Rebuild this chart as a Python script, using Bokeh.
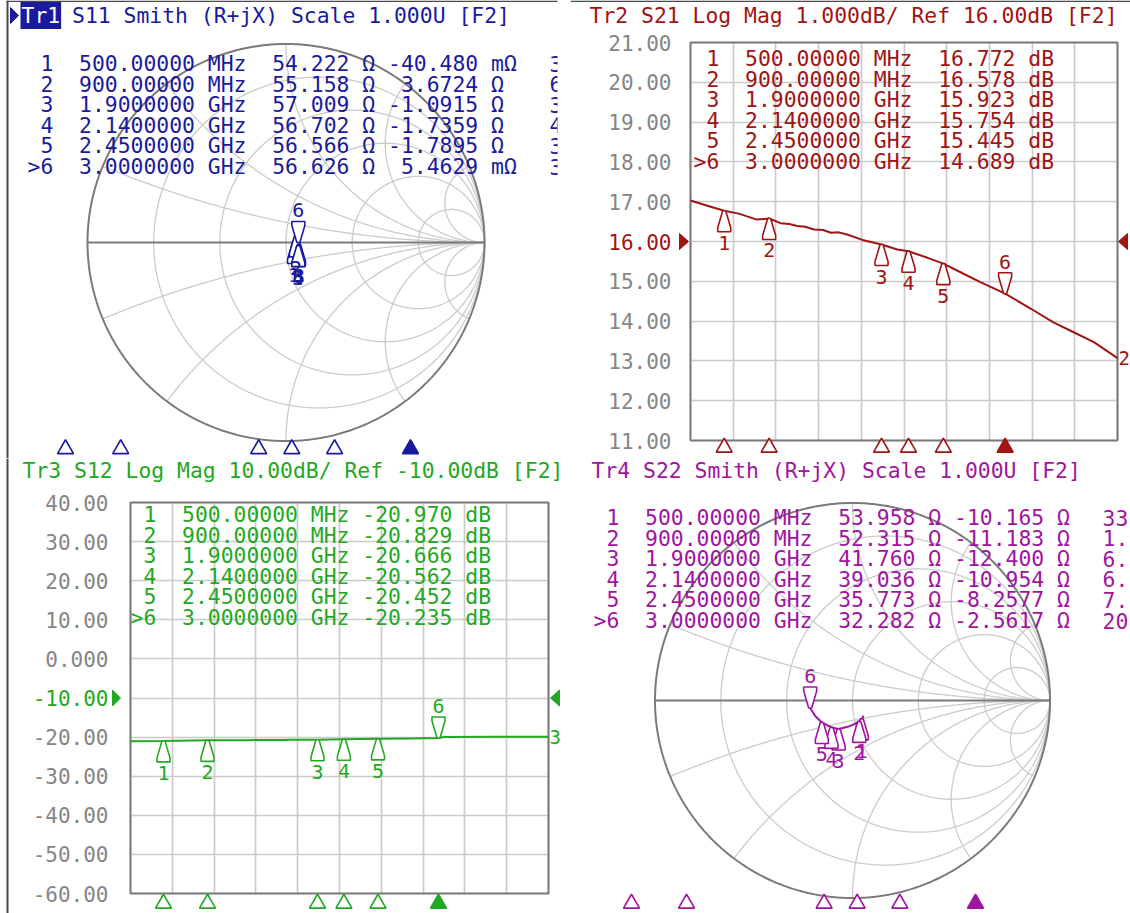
import numpy as np

from bokeh.core.properties import value
from bokeh.embed import file_html
from bokeh.layouts import column, row
from bokeh.models import BoxAnnotation, FixedTicker, Grid, Label, Range1d
from bokeh.plotting import figure
from bokeh.resources import INLINE

# ---------------- marker table (same six markers on every trace) ----------------
marker_names = ["1", "2", "3", "4", "5", ">6"]
marker_ghz = [0.5, 0.9, 1.9, 2.14, 2.45, 3.0]
active_marker = 5
sweep_start_ghz = 0.2
sweep_stop_ghz = 4.0

s11_r_ohm = [54.222, 55.158, 57.009, 56.702, 56.566, 56.626]
s11_x_ohm = [-0.040480, 3.6724, -1.0915, -1.7359, -1.7895, 0.0054629]
s11_last_col = ["3", "6", "3", "4", "3", "3"]

s21_db = [16.772, 16.578, 15.923, 15.754, 15.445, 14.689]
s12_db = [-20.970, -20.829, -20.666, -20.562, -20.452, -20.235]

s22_r_ohm = [53.958, 52.315, 41.760, 39.036, 35.773, 32.282]
s22_x_ohm = [-10.165, -11.183, -12.400, -10.954, -8.2577, -2.5617]
s22_last_col = ["33", "1.", "6.", "6.", "7.", "20"]

# ---------------- swept traces ----------------
s11_ghz = [0.2, 0.35, 0.5, 0.7, 0.9, 1.2, 1.5, 1.9, 2.14, 2.45, 2.7, 3.0, 3.3, 3.6, 4.0]
s11_r = [53.6, 53.9, 54.222, 54.7, 55.158, 56.0, 56.7, 57.009, 56.702, 56.566, 56.5, 56.626, 56.8, 56.3, 55.6]
s11_x = [-3.5, -2.0, -0.04, 2.3, 3.6724, 2.6, 0.8, -1.0915, -1.7359, -1.7895, -1.2, 0.0055, -2.5, -6.0, -10.5]

s21_ghz = [0.2, 0.35, 0.5, 0.63, 0.79, 0.9, 1.0, 1.08, 1.15, 1.22, 1.3, 1.38, 1.45, 1.52, 1.6, 1.73,
           1.9, 2.04, 2.14, 2.31, 2.45, 2.63, 2.78, 3.0, 3.23, 3.43, 3.61, 3.79, 4.0]
s21_trace_db = [17.03, 16.90, 16.772, 16.70, 16.55, 16.578, 16.46, 16.44, 16.39, 16.37, 16.30, 16.29, 16.22,
                16.23, 16.17, 16.04, 15.923, 15.80, 15.754, 15.59, 15.445, 15.19, 14.98, 14.689, 14.31,
                13.97, 13.72, 13.47, 13.07]

s12_ghz = [0.2, 0.5, 0.9, 1.25, 1.6, 1.65, 1.9, 2.14, 2.45, 2.75, 3.0, 3.05, 3.5, 4.0]
s12_trace_db = [-21.03, -20.970, -20.829, -20.78, -20.74, -20.68, -20.666, -20.562, -20.452, -20.34,
                -20.235, -19.95, -19.92, -19.90]

s22_ghz = [0.2, 0.35, 0.5, 0.7, 0.9, 1.2, 1.5, 1.9, 2.14, 2.45, 2.7, 3.0, 3.3, 3.6, 4.0]
s22_r = [55.2, 54.6, 53.958, 53.2, 52.315, 49.5, 46.0, 41.760, 39.036, 35.773, 33.8, 32.282, 31.8, 31.4, 31.0]
s22_x = [-8.6, -9.4, -10.165, -10.8, -11.183, -12.0, -12.5, -12.400, -10.954, -8.2577, -5.6, -2.5617, -0.5, 0.8, 1.8]

# ---------------- axes ----------------
s21_ticks = [21, 20, 19, 18, 17, 16, 15, 14, 13, 12, 11]
s21_tick_labels = ["21.00", "20.00", "19.00", "18.00", "17.00", "16.00", "15.00", "14.00", "13.00", "12.00", "11.00"]
s21_ref_db = 16
s12_ticks = [40, 30, 20, 10, 0, -10, -20, -30, -40, -50, -60]
s12_tick_labels = ["40.00", "30.00", "20.00", "10.00", "0.000", "-10.00", "-20.00", "-30.00", "-40.00", "-50.00", "-60.00"]
s12_ref_db = -10

headers = {
    "Tr1": "S11 Smith (R+jX) Scale 1.000U [F2]",
    "Tr2": "Tr2 S21 Log Mag 1.000dB/ Ref 16.00dB [F2]",
    "Tr3": "Tr3 S12 Log Mag 10.00dB/ Ref -10.00dB [F2]",
    "Tr4": "Tr4 S22 Smith (R+jX) Scale 1.000U [F2]",
}

# ---------------- styling ----------------
MONO = "DejaVu Sans Mono"
FPX = 21.4
FS = f"{FPX}px"
CW = 0.6021 * FPX         # advance of one monospace cell
PITCH = 20.6              # marker table row pitch
FL = 5                    # every pane's frame starts 5 px in, so the panes line up untouched
BLUE, RED, GREEN, PURPLE = "#1a1a9c", "#a01414", "#24a824", "#a014a0"
GRID_C, FRAME_C, TICK_C, EDGE_C = "#cbcbcb", "#7a7a7a", "#858585", "#4a4a4a"
MARKER_SHAPE = [(-1.5, 0), (1.5, 0), (6.5, 17), (6.5, 21), (-6.5, 21), (-6.5, 17)]


def nb(s):
    # keep runs of blanks in the SVG text
    return s.replace(" ", "\u00a0")


def freq_text(g):
    if g < 1:
        return f"{g * 1000:.5f}", "MHz"
    return f"{g:.7f}", "GHz"


def ohm_text(v):
    unit = "Ω"
    if abs(v) < 1:
        v, unit = v * 1000, "mΩ"
    digits = 5 - len(str(int(abs(v))))
    return f"{v:.{digits}f}", unit


def make_figure(w, h, xr, yr, with_axis=False):
    p = figure(width=w, height=h, x_range=Range1d(*xr), y_range=Range1d(*yr),
               output_backend="svg", toolbar_location=None, title=None,
               x_axis_location=None, y_axis_location="left" if with_axis else None,
               min_border_left=FL, min_border_right=0,
               min_border_top=0, min_border_bottom=0,
               outline_line_color=None, background_fill_color="white",
               border_fill_color="white")
    p.grid.visible = False
    return p


def put_text(p, fy, x, y, text, color, align="left", size=FS, **extra):
    """Text at canvas-local pixel (x, y); fy = frame bottom on the canvas."""
    p.add_layout(Label(x=x - FL, y=fy - y, x_units="screen", y_units="screen", text=nb(text),
                       text_color=color, text_font=MONO, text_font_size=size,
                       text_align=align, text_baseline="middle", **extra))


def block(p, fy, x0, x1, y0, y1, color):
    p.add_layout(BoxAnnotation(left=x0 - FL, right=x1 - FL, top=fy - y0, bottom=fy - y1,
                               left_units="screen", right_units="screen",
                               top_units="screen", bottom_units="screen",
                               fill_color=color, fill_alpha=1.0, line_color=None))


def trace_markers(p, xs, ys, kx, ky, color):
    pxs, pys, lx, ly = [], [], [], []
    for i, (x0, y0) in enumerate(zip(xs, ys)):
        s = 1 if i == active_marker else -1      # the active marker sits above the trace
        pxs.append([x0 + dx / kx for dx, dy in MARKER_SHAPE])
        pys.append([y0 + s * dy / ky for dx, dy in MARKER_SHAPE])
        lx.append(x0)
        ly.append(y0 + s * 32 / ky)
    p.patches(pxs, pys, fill_color="white", line_color=color, line_width=1.6)
    p.text(lx, ly, text=[n.lstrip(">") for n in marker_names], text_color=color,
           text_font=value(MONO), text_font_size="20px", text_align="center",
           text_baseline="middle")


def stimulus_row(p, y, color, **kw):
    fills = ["white"] * len(marker_ghz)
    fills[active_marker] = color
    p.scatter(marker_ghz, [y] * len(marker_ghz), marker="triangle", size=16,
              fill_color=fills, line_color=color, line_width=1.6, **kw)


def smith_grid():
    xs, ys = [], []
    sweep = np.tan(np.linspace(-np.pi / 2, np.pi / 2, 721)[1:-1])
    half = np.tan(np.linspace(0, np.pi / 2, 361)[:-1])
    for r in (0.2, 0.5, 1.0, 2.0, 5.0):
        g = (r + 1j * sweep - 1) / (r + 1j * sweep + 1)
        xs.append([1.0] + list(g.real) + [1.0])
        ys.append([0.0] + list(g.imag) + [0.0])
    for x in (0.2, 0.5, 1.0, 2.0, 5.0, -0.2, -0.5, -1.0, -2.0, -5.0):
        g = (half + 1j * x - 1) / (half + 1j * x + 1)
        xs.append(list(g.real) + [1.0])
        ys.append(list(g.imag) + [0.0])
    return xs, ys


def gamma(r_ohm, x_ohm):
    z = (np.asarray(r_ohm) + 1j * np.asarray(x_ohm)) / 50.0
    return (z - 1) / (z + 1)


def smith_panel(w, h, cx, cy, rad, color, r_ohm, x_ohm, last_col, last_x,
                tr_r, tr_x, stim_px, stim_y, table_xy):
    p = make_figure(w, h, ((FL - cx) / rad, (w - cx) / rad), (-(h - cy) / rad, cy / rad))
    gx, gy = smith_grid()
    p.multi_line(gx, gy, line_color=GRID_C, line_width=1.3)
    t = np.linspace(0, 2 * np.pi, 721)
    p.line(list(np.cos(t)), list(np.sin(t)), line_color=FRAME_C, line_width=2)
    p.segment(x0=[-1], y0=[0], x1=[1], y1=[0], line_color=FRAME_C, line_width=2)

    g = gamma(tr_r, tr_x)
    p.line(list(g.real), list(g.imag), line_color=color, line_width=2)
    gm = gamma(r_ohm, x_ohm)
    trace_markers(p, list(gm.real), list(gm.imag), rad, rad, color)

    # stimulus positions along a hidden frequency scale under the chart
    k = (stim_px[1] - stim_px[0]) / (sweep_stop_ghz - sweep_start_ghz)
    p.extra_x_ranges = {"freq": Range1d(sweep_start_ghz - (stim_px[0] - FL) / k,
                                        sweep_stop_ghz + (w - stim_px[1]) / k)}
    stimulus_row(p, -(stim_y - cy) / rad, color, x_range_name="freq")

    x0, y0 = table_xy
    rows_y = [y0 + i * PITCH for i in range(len(marker_names))]
    for i in range(len(marker_names)):
        f, fu = freq_text(marker_ghz[i])
        rv, _ = ohm_text(r_ohm[i])
        xv, xu = ohm_text(x_ohm[i])
        line = f"{marker_names[i]:>2}  {f} {fu}  {rv} Ω {xv:>7} {xu}"
        put_text(p, h, x0, rows_y[i], line, color)
    # column that runs past the pane edge
    p.text([(last_x - cx) / rad] * len(last_col), [(cy - y) / rad for y in rows_y],
           text=last_col, text_color=color, text_font=value(MONO), text_font_size=FS,
           text_align="left", text_baseline="middle")
    return p


def logmag_panel(w, h, label_right, box, ticks, tick_labels, ref, color,
                 tr_f, tr_db, mk_db, table_xy, stim_y, ref_tri, trace_no):
    bx0, bx1, by0, by1 = box
    top_v, bot_v = ticks[0], ticks[-1]
    kx = (bx1 - bx0) / (sweep_stop_ghz - sweep_start_ghz)
    ky = (by1 - by0) / (top_v - bot_v)
    xr = (sweep_start_ghz - (bx0 - FL) / kx, sweep_stop_ghz + (w - bx1) / kx)
    yr = (bot_v - (h - by1) / ky, top_v + by0 / ky)
    p = make_figure(w, h, xr, yr, True)

    def to_x(px):
        return sweep_start_ghz + (px - bx0) / kx

    def to_y(py):
        return top_v - (py - by0) / ky

    # value axis: labels pulled in over the canvas so they sit just left of the graticule
    ax = p.yaxis[0]
    ax.ticker = FixedTicker(ticks=[t for t in ticks if t != ref])
    ax.major_label_overrides = {t: s for t, s in zip(ticks, tick_labels)}
    ax.axis_line_color = None
    ax.major_tick_line_color = None
    ax.minor_tick_line_color = None
    ax.major_tick_out = 0
    ax.major_tick_in = 0
    ax.minor_tick_out = 0
    ax.major_label_text_font = MONO
    ax.major_label_text_font_size = "21px"
    ax.major_label_text_color = TICK_C
    ax.major_label_standoff = FL - label_right
    p.text([to_x(label_right)], [ref], text=[tick_labels[ticks.index(ref)]], text_color=color,
           text_font=value(MONO), text_font_size="21px", text_align="right", text_baseline="middle")

    xdiv = [sweep_start_ghz + (sweep_stop_ghz - sweep_start_ghz) * i / 10 for i in range(11)]
    xb, yb = (sweep_start_ghz, sweep_stop_ghz), (bot_v, top_v)
    if "cross_bounds" in Grid.properties():
        p.add_layout(Grid(dimension=0, ticker=FixedTicker(ticks=xdiv), bounds=xb, cross_bounds=yb,
                          grid_line_color=GRID_C, grid_line_width=1.7))
        p.add_layout(Grid(dimension=1, ticker=FixedTicker(ticks=ticks), bounds=yb, cross_bounds=xb,
                          grid_line_color=GRID_C, grid_line_width=1.7))
    else:
        p.segment(x0=xdiv, y0=[bot_v] * 11, x1=xdiv, y1=[top_v] * 11, line_color=GRID_C, line_width=1.7)
        p.segment(x0=[xb[0]] * len(ticks), y0=ticks, x1=[xb[1]] * len(ticks), y1=ticks,
                  line_color=GRID_C, line_width=1.7)
    p.quad(left=[xb[0]], right=[xb[1]], bottom=[bot_v], top=[top_v], fill_color=None,
           line_color=FRAME_C, line_width=2)

    p.line(tr_f, tr_db, line_color=color, line_width=2)
    trace_markers(p, marker_ghz, mk_db, kx, ky, color)
    p.text([sweep_stop_ghz + 1 / kx], [tr_db[-1]], text=[trace_no], text_color=color,
           text_font=value(MONO), text_font_size="19px", text_align="left", text_baseline="middle")

    stimulus_row(p, to_y(stim_y), color)

    # reference-level pointers on both sides of the graticule
    (l0, l1), (r0, r1) = ref_tri
    yr_px = by0 + (top_v - ref) * ky
    p.patches([[to_x(l0), to_x(l1), to_x(l0)], [to_x(r1), to_x(r0), to_x(r1)]],
              [[to_y(yr_px - 8), to_y(yr_px), to_y(yr_px + 8)]] * 2,
              fill_color=color, line_color=color)

    x0, y0 = table_xy
    for i in range(len(marker_names)):
        f, fu = freq_text(marker_ghz[i])
        line = f"{marker_names[i]:>2}  {f} {fu} {mk_db[i]:>7.3f} dB"
        put_text(p, h, x0, y0 + i * PITCH, line, color)
    return p


# ---------------- Tr1 : S11 Smith ----------------
W1, H1 = 565, 458
p1 = smith_panel(W1, H1, 285.5, 242.0, 198.5, BLUE, s11_r_ohm, s11_x_ohm, s11_last_col, 549,
                 s11_r, s11_x, (23.6, 548.0), 448.5, (27, 63))
# active-trace pointer and highlighted trace name
k1 = 198.5
p1.patches([[(10 - 285.5) / k1, (18 - 285.5) / k1, (10 - 285.5) / k1]],
           [[(242 - 7) / k1, (242 - 15) / k1, (242 - 23) / k1]], fill_color=BLUE, line_color=BLUE)
tr1_kw = dict(background_fill_color=BLUE, background_fill_alpha=1.0)
if "padding" in Label.properties():
    tr1_kw["padding"] = 1
put_text(p1, H1, 20, 15, "Tr1", "white", **tr1_kw)
put_text(p1, H1, 20 + 4 * CW, 15, headers["Tr1"], BLUE)
block(p1, H1, 557, W1, 0, H1, "white")       # the table's last column is cut at the pane edge
block(p1, H1, 6, 8, 0, H1, EDGE_C)
block(p1, H1, 6, 557, 0, 1.5, EDGE_C)

# ---------------- Tr2 : S21 Log Mag ----------------
W2, H2 = 565, 458
p2 = logmag_panel(W2, H2, 106, (125, 552, 42, 440), s21_ticks, s21_tick_labels, s21_ref_db, RED,
                  s21_ghz, s21_trace_db, s21_db, (128, 58), 447, ((114, 123), (553, 562)), "2")
put_text(p2, H2, 24, 15, headers["Tr2"], RED)
block(p2, H2, FL, W2, 0, 1.5, EDGE_C)

# ---------------- Tr3 : S12 Log Mag ----------------
W3, H3 = 565, 455
p3 = logmag_panel(W3, H3, 108, (130, 548, 44, 435), s12_ticks, s12_tick_labels, s12_ref_db, GREEN,
                  s12_ghz, s12_trace_db, s12_db, (130, 56), 445, ((112, 120), (550, 559)), "3")
put_text(p3, H3, 22, 12, headers["Tr3"], GREEN)
block(p3, H3, 6, 8, 0, H3, EDGE_C)

# ---------------- Tr4 : S22 Smith ----------------
W4, H4 = 565, 455
p4 = smith_panel(W4, H4, 287.0, 242.0, 197.5, PURPLE, s22_r_ohm, s22_x_ohm, s22_last_col, 537,
                 s22_r, s22_x, (24.7, 547.6), 445, (28, 59))
put_text(p4, H4, 26, 12, headers["Tr4"], PURPLE)

layout = row(column(p1, p3), column(p2, p4))
open("out.html", "w").write(file_html(layout, INLINE))
